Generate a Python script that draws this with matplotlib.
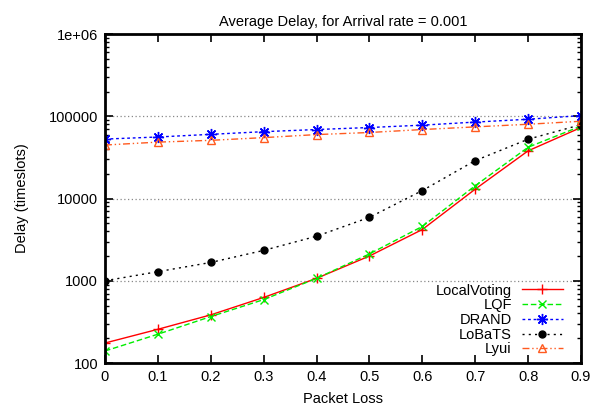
import matplotlib
matplotlib.use('Agg')
import matplotlib.pyplot as plt
from matplotlib.ticker import FixedLocator, FixedFormatter, LogLocator, NullFormatter

plt.rcParams['font.family'] = ['Liberation Sans', 'DejaVu Sans']

packet_loss = [0, 0.1, 0.2, 0.3, 0.4, 0.5, 0.6, 0.7, 0.8, 0.9]

local_voting = [175, 257, 385, 627, 1070, 2000, 4200, 13000, 38000, 73000]
lqf = [140, 224, 367, 590, 1070, 2120, 4580, 14300, 42000, 76000]
drand = [52800, 56000, 60300, 65000, 69000, 73000, 78000, 85000, 92000, 102000]
lobats = [1000, 1290, 1670, 2340, 3480, 5900, 12500, 28900, 52600, 79000]
lyui = [44700, 48500, 51000, 55000, 59900, 63500, 69000, 74300, 80000, 87000]

y_ticks = [100, 1000, 10000, 100000, 1000000]
y_tick_labels = ['100', '1000', '10000', '100000', '1e+06']

fig = plt.figure(figsize=(6.02, 4.12), dpi=100)
ax = fig.add_axes([0.1744, 0.1189, 0.7907, 0.7985])

ax.plot(packet_loss, local_voting, color='#ff0000', lw=1, marker='+', ms=7, mew=1, label='LocalVoting')
ax.plot(packet_loss, lqf, color='#00ee00', lw=1, ls=(0, (4, 2)), marker='x', ms=6, mew=1, label='LQF')
ax.plot(packet_loss, drand, color='#0000ff', lw=1, ls=(0, (2, 2)), marker=(8, 2, 0), ms=8, mew=1,
        label='DRAND')
ax.plot(packet_loss, lobats, color='#000000', lw=1, ls=(0, (1.5, 3)), marker='o', ms=5, label='LoBaTS')
ax.plot(packet_loss, lyui, color='#ff5a1f', lw=1, ls=(0, (5, 2, 1, 2, 1, 2)), marker='^', ms=6, mew=1,
        mfc='none', label='Lyui')

ax.set_yscale('log')
ax.set_xlim(0, 0.9)
ax.set_ylim(100, 1000000)
ax.set_xticks(packet_loss)
ax.set_xticklabels([('%g' % v) for v in packet_loss])
ax.yaxis.set_major_locator(FixedLocator(y_ticks))
ax.yaxis.set_major_formatter(FixedFormatter(y_tick_labels))
ax.yaxis.set_minor_locator(LogLocator(base=10, subs=range(2, 10)))
ax.yaxis.set_minor_formatter(NullFormatter())

ax.tick_params(which='both', direction='in', top=True, right=True, labelsize=10.5)
ax.tick_params(which='major', length=6, width=1.2, pad=5)
ax.tick_params(which='minor', length=3, width=1)
for s in ax.spines.values():
    s.set_linewidth(2)

ax.yaxis.grid(True, which='major', ls=(0, (1, 2)), color='#888888', lw=0.9)

ax.set_title('Average Delay, for Arrival rate = 0.001', fontsize=10.5, pad=6)
ax.set_xlabel('Packet Loss', fontsize=10.5, labelpad=6)
ax.set_ylabel('Delay (timeslots)', fontsize=10.5, labelpad=14)

ax.legend(loc='lower right', bbox_to_anchor=(0.962, 0.02), frameon=False, markerfirst=False,
          numpoints=1, fontsize=10.5, handlelength=2.8, labelspacing=0.05, handletextpad=0.7,
          borderaxespad=0, borderpad=0)

plt.savefig('out.png', dpi=100)
plt.close()
